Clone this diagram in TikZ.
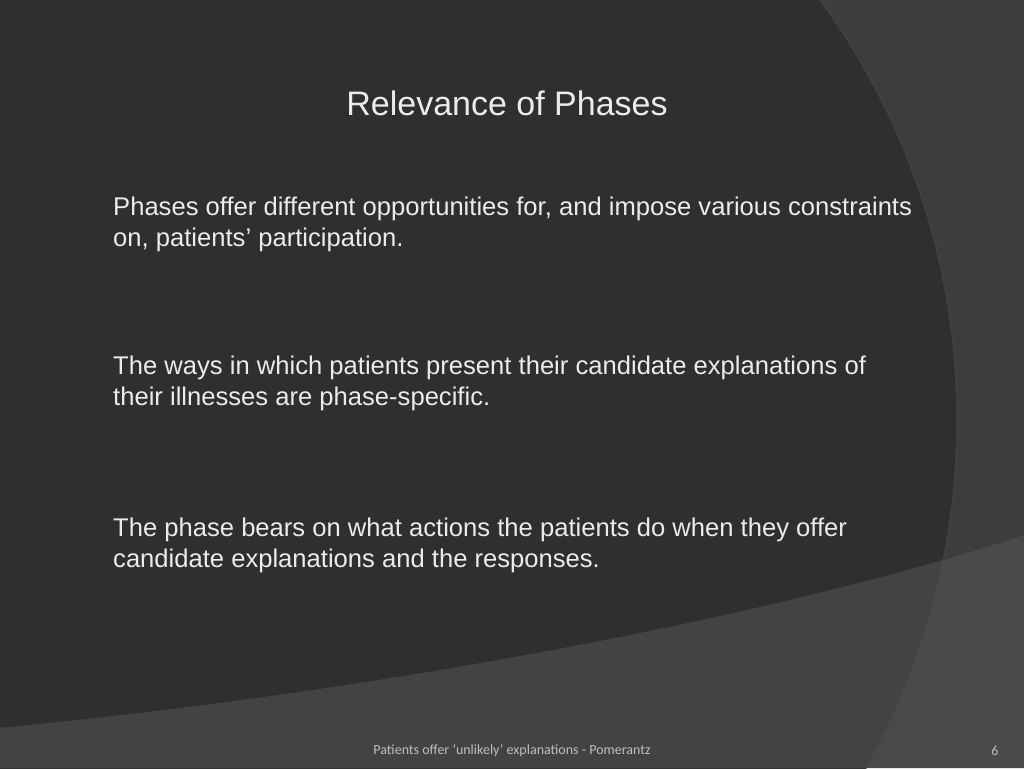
\documentclass[tikz,border=0pt]{standalone}
\usepackage{fontspec}
\setmainfont{Liberation Sans}
\newfontfamily\foot{Carlito}
\begin{document}
\begin{tikzpicture}[x=1pt,y=-1pt,
  body/.style={anchor=north west,align=left,text=white!92!black,font=\fontsize{25.6}{31}\selectfont,inner sep=0pt}]
\definecolor{bgout}{HTML}{3D3D3D}
\definecolor{bgin}{HTML}{2F2F2F}
\definecolor{band}{HTML}{4A4A4A}
\definecolor{bandin}{HTML}{434343}
\useasboundingbox (0,0) rectangle (1024,768);
\fill[bgout] (0,0) rectangle (1024,768);
\begin{scope}
\clip (0,0) rectangle (1024,768);
\fill[bgin] (245,420) circle (712);
\fill[band] (0,728) .. controls (400,690) and (800,610) .. (1024,535) -- (1024,768) -- (0,768) -- cycle;
\begin{scope}
\clip (245,420) circle (712);
\fill[bandin] (0,728) .. controls (400,690) and (800,610) .. (1024,535) -- (1024,768) -- (0,768) -- cycle;
\end{scope}
\draw[black!70,opacity=0.5,line width=1.5pt] (245,420) circle (712);
\end{scope}
\node[text=white!92!black,font=\fontsize{34}{40}\selectfont] (title) at (507,103) {Relevance of Phases};
\node[body] (p1) at (113,197) {Phases offer different opportunities for, and impose various constraints\\on, patients’ participation.};
\node[body] (p2) at (113,356) {The ways in which patients present their candidate explanations of\\their illnesses are phase-specific.};
\node[body] (p3) at (113,518) {The phase bears on what actions the patients do when they offer\\candidate explanations and the responses.};
\node[text=white!75!black,font=\foot\fontsize{14}{16}\selectfont] (ft) at (512,751) {Patients offer ‘unlikely’ explanations - Pomerantz};
\node[text=white!75!black,font=\foot\fontsize{14}{16}\selectfont] (pg) at (995,751) {6};
\end{tikzpicture}
\end{document}
